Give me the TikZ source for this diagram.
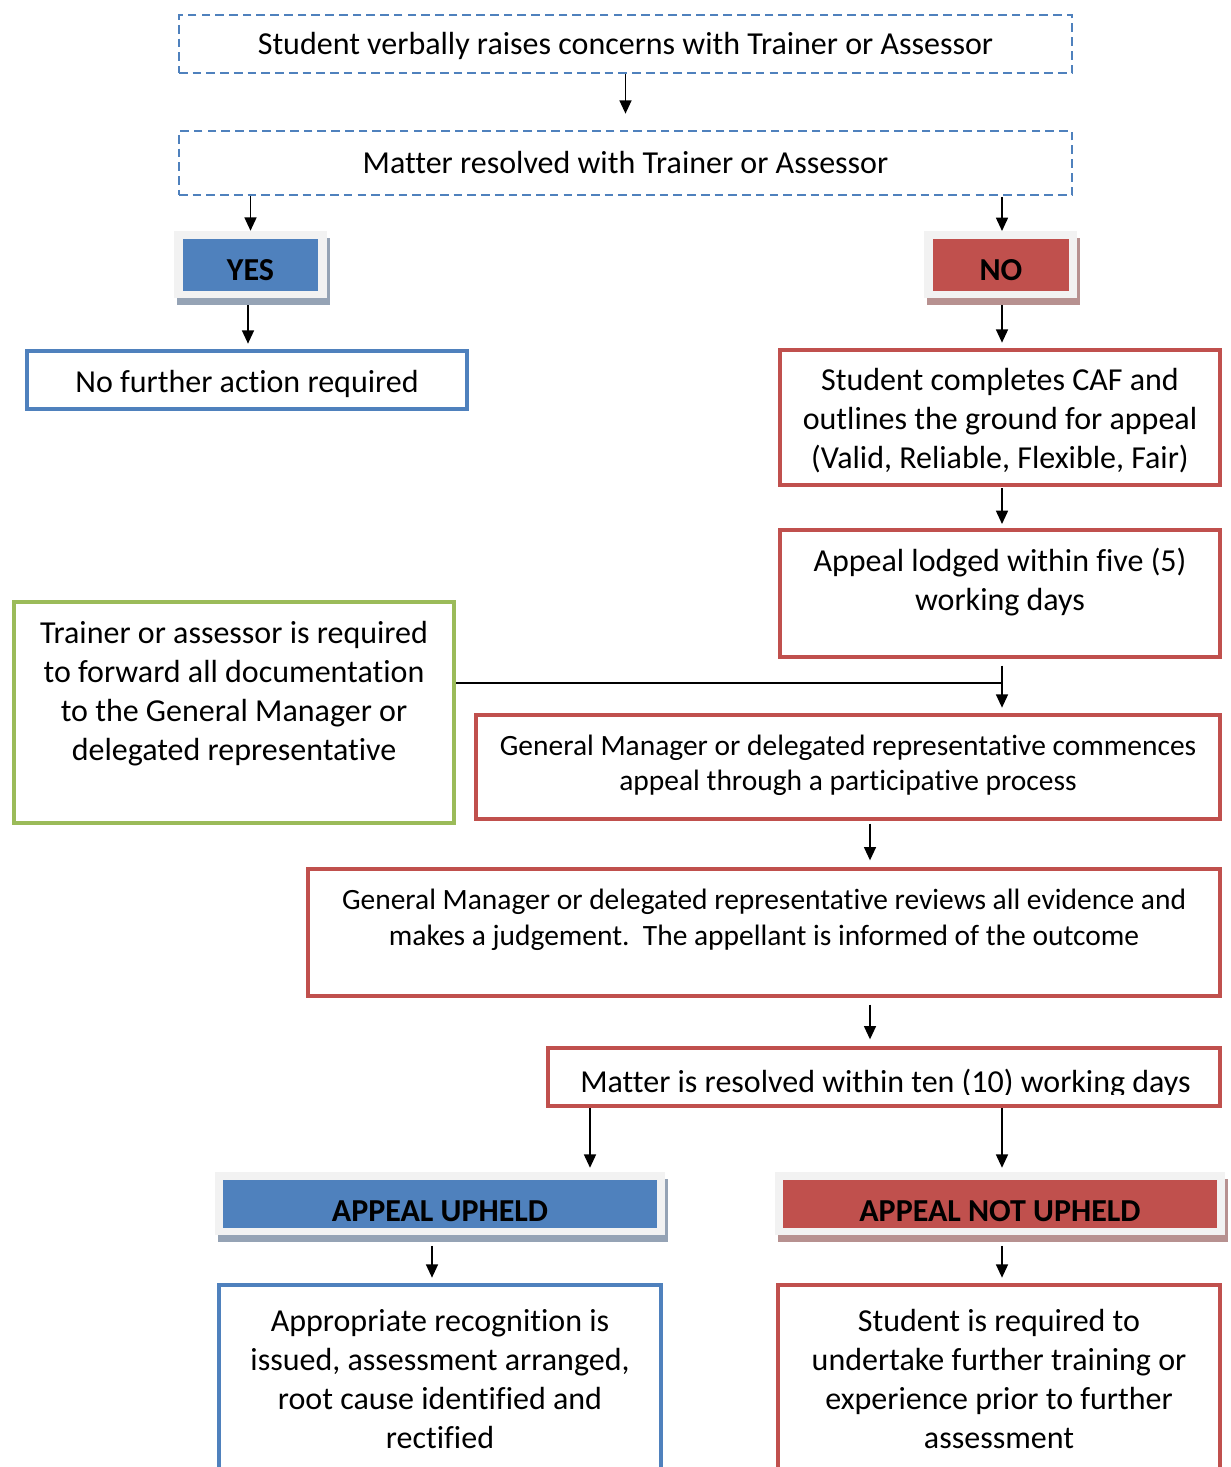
\documentclass[tikz,border=0pt]{standalone}
\usepackage{fontspec}
\setmainfont{Carlito}[Ligatures=NoCommon]
\usetikzlibrary{arrows.meta}
\definecolor{cblue}{HTML}{4F81BD}
\definecolor{cred}{HTML}{C0504D}
\definecolor{cgreen}{HTML}{9BBB59}
\definecolor{shblue}{HTML}{95A3B5}
\definecolor{shred}{HTML}{B79190}
\definecolor{lite}{HTML}{F2F2F2}
\begin{document}
\begin{tikzpicture}[x=0.75pt,y=-0.75pt,
  sz/.style 2 args={minimum width=#1*0.75pt, minimum height=#2*0.75pt},
  box/.style={rectangle, inner sep=0pt},
  dbox/.style={box, draw=cblue, line width=2pt, dash pattern=on 6.5pt off 3.8pt},
  rbox/.style={box, draw=cred, line width=3pt},
  bbox/.style={box, draw=cblue, line width=3pt},
  gbox/.style={box, draw=cgreen, line width=3pt},
  tagbox/.style={box, fill=lite},
  txt/.style={font=\fontsize{24}{29.25}\selectfont, align=center, inner sep=0pt},
  stxt/.style={font=\fontsize{22.1}{26.5}\selectfont, align=center, inner sep=0pt},
  btxt/.style={font=\fontsize{24}{26}\selectfont\bfseries, align=center, inner sep=0pt},
  arr/.style={-{Triangle[width=9pt,length=10pt]}, line width=1.2pt}
]
\useasboundingbox (0,0) rectangle (1231,1467);
\clip (0,0) rectangle (1231,1467);
\fill[white] (0,0) rectangle (1231,1467);

% dashed top boxes
\node[dbox, sz={893}{58}] (b1) at (625.5,44) {};
\node[txt] (t1) at (625.5,46) {Student verbally raises concerns with Trainer or Assessor};
\node[dbox, sz={893}{64}] (b2) at (625.5,163) {};
\node[txt] (t2) at (625.5,163) {Matter resolved with Trainer or Assessor};

% YES tag
\fill[shblue] (177,238) rectangle (330,305);
\node[tagbox, sz={153}{67}] (yes) at (250.5,264.5) {};
\fill[cblue] (183,239) rectangle (318,291);
\node[btxt] (tyes) at (250.5,270) {YES};

% NO tag
\fill[shred] (927,238) rectangle (1080,305);
\node[tagbox, sz={153}{67}] (no) at (1000.5,264.5) {};
\fill[cred] (933,239) rectangle (1069,291);
\node[btxt] (tno) at (1001,270) {NO};

% left branch
\node[bbox, sz={440}{58}] (nfa) at (247,380) {};
\node[txt] (tnfa) at (247,384) {No further action required};

% right branch
\node[rbox, sz={440}{135}] (caf) at (1000,417.5) {};
\node[txt] (tcaf) at (1000,421) {Student completes CAF and\\outlines the ground for appeal\\(Valid, Reliable, Flexible, Fair)};
\node[rbox, sz={440}{127}] (lodge) at (1000,593.5) {};
\node[txt] (tlodge) at (1000,582) {Appeal lodged within five (5)\\working days};

\node[gbox, sz={440}{221}] (green) at (234,712.5) {};
\node[txt] (tgreen) at (234,694) {Trainer or assessor is required\\to forward all documentation\\to the General Manager or\\delegated representative};

\node[rbox, sz={744}{104}] (gm1) at (848,767) {};
\node[stxt] (tgm1) at (848,765) {General Manager or delegated representative commences\\appeal through a participative process};

\node[rbox, sz={912}{127}] (gm2) at (764,932.5) {};
\node[stxt,font=\fontsize{22.1}{27}\selectfont] (tgm2) at (764,919.5) {General Manager or delegated representative reviews all evidence and\\makes a judgement.\ \ The appellant is informed of the outcome};

\node[rbox, sz={672}{58}] (mat) at (884,1077) {};
\begin{scope}
\clip (550,1050) rectangle (1218,1094);
\node[txt] (tmat) at (885.5,1084) {Matter is resolved within ten (10) working days};
\end{scope}

% APPEAL UPHELD tag
\fill[shblue] (218,1179) rectangle (668,1242);
\node[tagbox, sz={450}{63}] (up) at (440,1203.5) {};
\fill[cblue] (223,1180) rectangle (657,1228);
\node[btxt] (tup) at (440,1211) {APPEAL UPHELD};

% APPEAL NOT UPHELD tag
\fill[shred] (778,1179) rectangle (1228,1242);
\node[tagbox, sz={450}{63}] (nup) at (1000,1203.5) {};
\fill[cred] (783,1180) rectangle (1217,1228);
\node[btxt] (tnup) at (1000,1211) {APPEAL NOT UPHELD};

% bottom boxes
\node[bbox, sz={442}{215}] (rec) at (440,1392.5) {};
\node[txt] (trec) at (440,1379) {Appropriate recognition is\\issued, assessment arranged,\\root cause identified and\\rectified};
\node[rbox, sz={442}{215}] (fur) at (999,1392.5) {};
\node[txt] (tfur) at (999,1379) {Student is required to\\undertake further training or\\experience prior to further\\assessment};

% connectors
\draw[arr, shorten >=12pt] (b1.south) -- (b2.north);
\draw[arr] (yes.north |- b2.south) -- (yes.north);
\draw[arr] (1002,197) -- (1002,231);
\draw[arr, shorten >=4pt] (248,305) -- (nfa.north -| 248,0);
\draw[arr, shorten >=4pt] (1002,305) -- (caf.north -| 1002,0);
\draw[arr, shorten <=1pt, shorten >=3pt] (caf.south -| 1002,0) -- (lodge.north -| 1002,0);
\coordinate (j) at (1002,683);
\draw[line width=1.2pt] (green.east |- j) -- (j);
\draw[arr, shorten <=5pt, shorten >=4pt] (lodge.south -| j) -- (gm1.north -| j);
\draw[arr, shorten <=2pt, shorten >=5pt] (gm1.south -| 870,0) -- (gm2.north -| 870,0);
\draw[arr, shorten <=5pt, shorten >=5pt] (gm2.south -| 870,0) -- (mat.north -| 870,0);
\draw[arr, shorten >=3pt] (mat.south -| 590,0) -- (up.north -| 590,0);
\draw[arr, shorten >=3pt] (mat.south -| 1002,0) -- (nup.north -| 1002,0);
\draw[arr, shorten <=8pt, shorten >=4pt] (up.south -| 432,0) -- (rec.north -| 432,0);
\draw[arr, shorten <=8pt, shorten >=4pt] (nup.south -| 1002,0) -- (fur.north -| 1002,0);
\end{tikzpicture}
\end{document}
